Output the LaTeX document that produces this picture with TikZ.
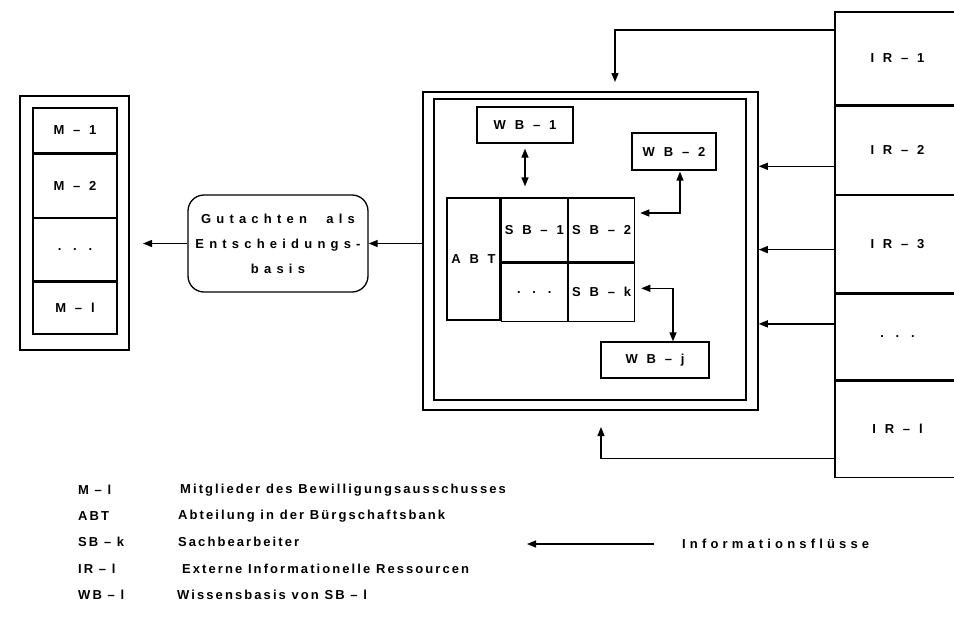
\documentclass[tikz,border=0pt]{standalone}
\usepackage{fontspec}
\setmainfont{Liberation Sans}
\newfontfamily\legfont{Liberation Sans}[LetterSpace=16]
\newfontfamily\flowfont{Liberation Sans}[LetterSpace=32]
\newfontfamily\boxfont{Liberation Sans}[LetterSpace=40]
\usetikzlibrary{arrows.meta, positioning, calc}
\newcommand{\tabtxt}[1]{\makebox[0pt]{#1}}

\begin{document}
\begin{tikzpicture}[x=1pt, y=-1pt,
    cell/.style={draw, line width=1.3pt, inner sep=0pt, font=\boxfont\bfseries\fontsize{13}{15}\selectfont},
    frame/.style={draw, line width=1.5pt, inner sep=0pt},
    arrow/.style={-{Triangle[length=9pt,width=7pt]}, line width=1.3pt},
    biarrow/.style={{Triangle[length=9pt,width=7pt]}-{Triangle[length=9pt,width=7pt]}, line width=1.3pt},
    legend/.style={anchor=west, inner sep=0pt, font=\legfont\bfseries\fontsize{13}{15}\selectfont}
]
\useasboundingbox (0,0) rectangle (954,643);

% Bewilligungsausschuss
\node[frame, minimum width=109pt, minimum height=254pt] (mframe) at (74.5,223) {};
\node[cell, minimum width=84pt, minimum height=45pt] (m1) at (75,130.5) {M – 1};
\node[cell, minimum width=84pt, minimum height=63pt, below=0pt of m1] (m2) {M – 2};
\node[cell, minimum width=84pt, minimum height=62pt, below=0pt of m2] (mdots) {. . .};
\node[cell, minimum width=84pt, minimum height=52pt, below=0pt of mdots] (ml) {M – l};

% Gutachten
\node[draw, line width=1.3pt, rounded corners=16pt, minimum width=180pt, minimum height=97pt, align=center,
      font=\boxfont\bfseries\fontsize{13}{25}\selectfont] (gut) at (278,243.5)
      {Gutachten\hspace{1.5em}als\\Entscheidungs-\\basis};

% Buergschaftsbank
\node[frame, minimum width=335pt, minimum height=318pt] (outer) at (590.5,251) {};
\node[frame, minimum width=312pt, minimum height=301pt] (inner) at (590,249.5) {};

\node[cell, minimum width=96pt, minimum height=36pt] (wb1) at (525,125) {W B – 1};
\node[cell, minimum width=84pt, minimum height=37pt] (wb2) at (674,151.5) {W B – 2};
\node[cell, minimum width=108pt, minimum height=36pt] (wbj) at (655,360) {W B – j};

\node[cell, minimum width=53pt, minimum height=122pt] (abt) at (473.5,259) {\tabtxt{A B T}};
\node[cell, minimum width=66pt, minimum height=64pt, anchor=north west] (sb1) at (abt.north east) {\tabtxt{S B – 1}};
\node[cell, minimum width=66pt, minimum height=64pt, anchor=north west] (sb2) at (sb1.north east) {\tabtxt{S B – 2}};
\node[cell, minimum width=66pt, minimum height=58pt, anchor=north west] (sbdots) at (sb1.south west) {\tabtxt{. . .}};
\node[cell, minimum width=66pt, minimum height=58pt, anchor=north west] (sbk) at (sb2.south west) {\tabtxt{S B – k}};

% Ressourcen
\node[cell, minimum width=125pt, minimum height=93pt] (ir1) at (897.5,58.5) {I R – 1};
\node[cell, minimum width=125pt, minimum height=88pt, below=0pt of ir1] (ir2) {I R – 2};
\node[cell, minimum width=125pt, minimum height=97pt, below=0pt of ir2] (ir3) {I R – 3};
\node[cell, minimum width=125pt, minimum height=86pt, below=0pt of ir3] (irdots) {. . .};
\node[cell, minimum width=125pt, minimum height=96pt, below=0pt of irdots] (irl) {I R – l};

% Arrows
\coordinate (topin) at (615,82);
\coordinate (botin) at (601,427);
\coordinate (ausin) at (143,243.5);
\draw[arrow] ([yshift=28.5pt]ir1.west) -| (topin);
\draw[arrow] ([yshift=-16pt]ir2.west) -- ([yshift=-16pt]ir2.west -| outer.east);
\draw[arrow] ([yshift=-5.5pt]ir3.west) -- ([yshift=-5.5pt]ir3.west -| outer.east);
\draw[arrow] ([yshift=13pt]irdots.west) -- ([yshift=13pt]irdots.west -| outer.east);
\draw[arrow] ([yshift=-29pt]irl.west) -| (botin);
\draw[arrow] (outer.west |- gut.east) -- (gut.east);
\draw[arrow] (gut.west) -- (ausin);

\draw[biarrow] ([yshift=-5pt]wb1.south) -- ([yshift=11pt]wb1.south |- sb1.north);
\draw[biarrow] ([xshift=6pt,yshift=-1pt]wb2.south) |- ([xshift=5pt,yshift=17pt]sb2.east);
\draw[biarrow] ([xshift=6pt,yshift=4pt]sbk.east) -| ([xshift=18pt]wbj.north);

% Legend
\node[legend] (lm) at (78,490) {M – l};
\node[legend] (lmtxt) at (180,490) {Mitglieder des Bewilligungsausschusses};
\node[legend] (labt) at (78,516) {ABT};
\node[legend] (labttxt) at (178,516) {Abteilung in der Bürgschaftsbank};
\node[legend] (lsb) at (78,542) {SB – k};
\node[legend] (lsbtxt) at (178,542) {Sachbearbeiter};
\node[legend] (lir) at (78,569) {IR – l};
\node[legend] (lirtxt) at (182,569) {Externe Informationelle Ressourcen};
\node[legend] (lwb) at (78,595) {WB – l};
\node[legend] (lwbtxt) at (177,595) {Wissensbasis von SB – l};

\node[legend, font=\flowfont\bfseries\fontsize{13}{15}\selectfont] (flow) at (682,544) {Informationsflüsse};
\draw[arrow] ([xshift=-28pt]flow.west) -- ([xshift=-155pt]flow.west);

\end{tikzpicture}
\end{document}
